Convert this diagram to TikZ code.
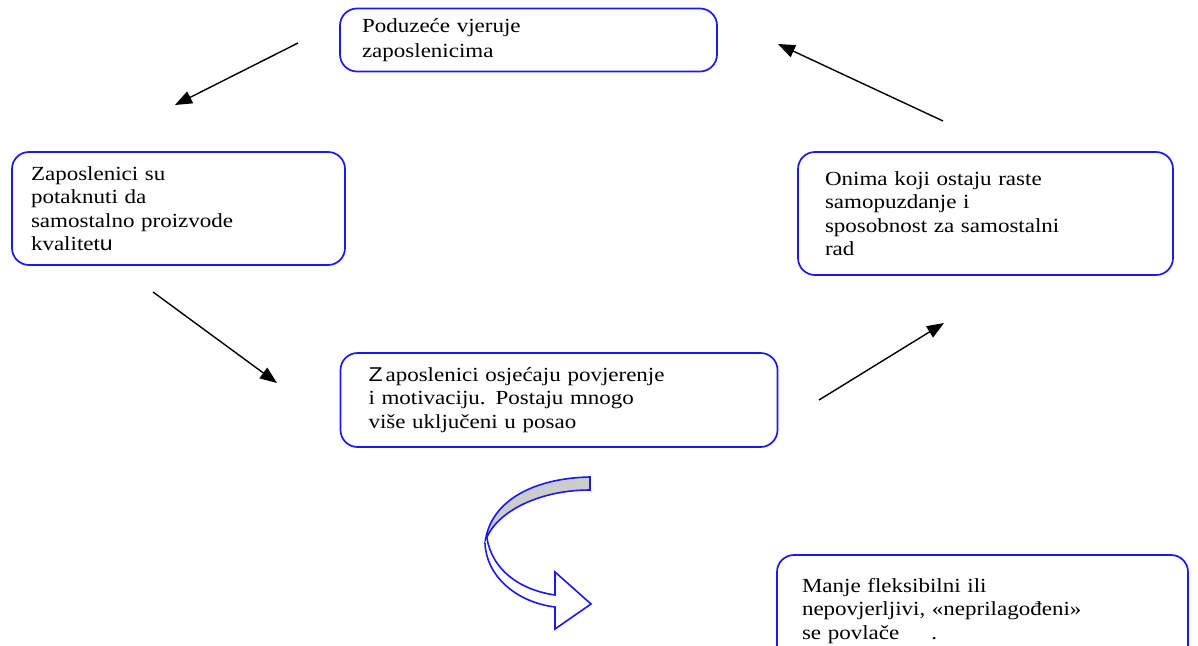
\documentclass[tikz,border=0pt]{standalone}
\usepackage{fontspec}
\setmainfont{Liberation Serif}[FakeStretch=1.15]
\newfontfamily\arialfont{Liberation Sans}[FakeStretch=1.15]
\usetikzlibrary{arrows.meta}
\definecolor{pBlue}{RGB}{25,25,240}
\definecolor{pGray}{gray}{0.8}
\tikzset{
    box/.style={draw=pBlue, line width=1.7pt, rounded corners=17pt, align=left,
        inner xsep=22pt, inner ysep=0pt, font=\fontsize{20}{23.5}\selectfont},
    link/.style={-{Triangle[length=17pt,width=13pt]}, line width=1.4pt}
}

\begin{document}
\begin{tikzpicture}[x=1pt,y=-1pt]
\useasboundingbox (0,0) rectangle (1198,645);
\node[box, text width=333pt, minimum width=377pt, minimum height=63pt] (trust) at (528.5,40) {Poduzeće vjeruje\\[1.5pt]zaposlenicima};
\node[box, inner xsep=19pt, text width=295pt, minimum width=333pt, minimum height=113pt] (encourage) at (178.5,208.5) {Zaposlenici su\\potaknuti da\\samostalno proizvode\\kvalitet{\arialfont u}};
\node[box, inner xsep=28pt, text width=381pt, minimum width=437pt, minimum height=94pt] (motivation) at (559,400) {{\arialfont Z}\kern3pt aposlenici osjećaju povjerenje\\i motivaciju. Postaju mnogo\\više uključeni u posao};
\node[box, inner xsep=27pt, text width=321pt, minimum width=375pt, minimum height=123pt] (confidence) at (985.5,213.5) {Onima koji ostaju raste\\samopuzdanje i\\sposobnost za samostalni\\rad};
\node[box, inner xsep=25pt, text width=361pt, minimum width=411pt, minimum height=112pt] (withdraw) at (982.5,611) {Manje fleksibilni ili\\nepovjerljivi, «neprilagođeni»\\se povlače\hspace{1.6em}.};
% free arrow ends
\coordinate (trustOut) at (298,43);
\coordinate (encourageIn) at (175,105);
\coordinate (encourageOut) at (153,292);
\coordinate (motivationIn) at (277,383);
\coordinate (motivationOut) at (819,400);
\coordinate (confidenceIn) at (944,323);
\coordinate (confidenceOut) at (943,121);
\coordinate (trustIn) at (778,44);
\draw[link] (trustOut) -- (encourageIn);
\draw[link] (encourageOut) -- (motivationIn);
\draw[link] (motivationOut) -- (confidenceIn);
\draw[link] (confidenceOut) -- (trustIn);
% curved arrow
\draw[pBlue, line width=1.6pt, fill=pGray] (590,477) .. controls (535,478) and (490,500) .. (485,543)
    .. controls (492,515) and (535,490) .. (590,490) -- cycle;
\draw[pBlue, line width=1.6pt, fill=white] (485,543) .. controls (486,575) and (515,602) .. (555,607)
    -- (555,629) -- (591,604) -- (555,572) -- (555,595)
    .. controls (520,590) and (492,570) .. (487,538);
\end{tikzpicture}
\end{document}
